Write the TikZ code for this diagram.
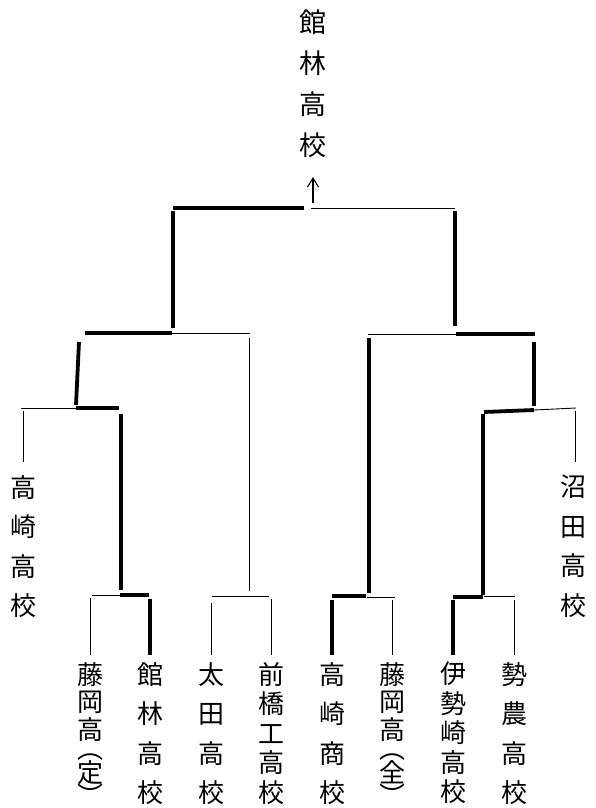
\documentclass[tikz,border=0pt]{standalone}
\usepackage{fontspec}
\newfontfamily\jp{Noto Sans CJK JP}
\usetikzlibrary{arrows.meta}
\begin{document}
\begin{tikzpicture}[x=1pt,y=-1pt,
  win/.style={line width=3.8pt},
  lose/.style={line width=0.9pt},
  lab/.style={inner sep=0pt, align=center, anchor=north},
  sp39/.style={font=\jp\fontsize{26}{39.5}\selectfont},
  sp41/.style={font=\jp\fontsize{27}{41}\selectfont},
  sp29/.style={font=\jp\fontsize{26}{29.5}\selectfont},
  sp28/.style={font=\jp\fontsize{26}{27.5}\selectfont}]
\useasboundingbox (0,0) rectangle (595,808);

% ---- labels
\node[lab,sp41] (champ) at (313,10) {館\\林\\高\\校};
\node[lab,sp39] (l1) at (23,475) {高\\崎\\高\\校};
\node[lab,sp39] (r1) at (573,475) {沼\\田\\高\\校};
\node[lab,sp28] (t1) at (90,662) {藤\\岡\\高\\[-8pt]︵\\[-4pt]定\\[-4pt]︶};
\node[lab,sp39] (t2) at (150,662) {館\\林\\高\\校};
\node[lab,sp39] (t3) at (211,662) {太\\田\\高\\校};
\node[lab,sp29] (t4) at (271,662) {前\\橋\\工\\高\\校};
\node[lab,sp39] (t5) at (332,662) {高\\崎\\商\\校};
\node[lab,sp28] (t6) at (392,662) {藤\\岡\\高\\[-8pt]︵\\[-4pt]全\\[-4pt]︶};
\node[lab,sp29] (t7) at (453,662) {伊\\勢\\崎\\高\\校};
\node[lab,sp39] (t8) at (514,662) {勢\\農\\高\\校};

% ---- stub ends above labels
\coordinate (s1) at (90,655);  \coordinate (s2) at (150,655);
\coordinate (s3) at (211,655); \coordinate (s4) at (271,655);
\coordinate (s5) at (332,655); \coordinate (s6) at (392,655);
\coordinate (s7) at (453,655); \coordinate (s8) at (514,655);
\coordinate (sl) at (23,462);  \coordinate (sr) at (575,462);

% ---- final
\coordinate (arrA) at (313,203); \coordinate (arrB) at (313,177);
\draw[line width=1.1pt,-{Straight Barb[length=9pt,width=11pt]}] (arrA) -- (arrB);
\coordinate (F1) at (173,208); \coordinate (F2) at (304,208);
\coordinate (F3) at (311,208); \coordinate (F4) at (455,208);
\coordinate (F1b) at (173,211); \coordinate (F4b) at (455,211);
\coordinate (L0) at (173,328); \coordinate (R0) at (455,326);
\draw[win] (F1) -- (F2);
\draw[lose] (F3) -- (F4);
\draw[win] (F1b) -- (L0);
\draw[win] (F4b) -- (R0);

% ---- semifinal left
\coordinate (SL1) at (85,333); \coordinate (SL2) at (172,333); \coordinate (SL3) at (250,333);
\draw[win] (SL1) -- (SL2);
\draw[lose] (SL2) -- (SL3);
\coordinate (SLa) at (79,342); \coordinate (SLb) at (76,405);
\draw[win] (SLa) -- (SLb);
\coordinate (SLc) at (249,338); \coordinate (SLd) at (249,591);
\draw[lose] (SLc) -- (SLd);

% ---- semifinal right
\coordinate (SR1) at (368,334); \coordinate (SR2) at (456,334); \coordinate (SR3) at (535,334);
\draw[lose] (SR1) -- (SR2);
\draw[win] (SR2) -- (SR3);
\coordinate (SRa) at (369,338); \coordinate (SRb) at (369,593);
\draw[win] (SRa) -- (SRb);
\coordinate (SRc) at (534,342); \coordinate (SRd) at (534,406);
\draw[win] (SRc) -- (SRd);

% ---- quarter left
\coordinate (QL1) at (21,408); \coordinate (QL2) at (76,408); \coordinate (QL3) at (119,408);
\draw[lose] (QL1) -- (QL2);
\draw[win] (QL2) -- (QL3);
\coordinate (QLa) at (23,411);
\draw[lose] (QLa) -- (sl);
\coordinate (QLb) at (121,414); \coordinate (QLc) at (121,590);
\draw[win] (QLb) -- (QLc);

% ---- quarter right
\coordinate (QR1) at (484,412); \coordinate (QR2) at (534,410); \coordinate (QR3) at (576,408);
\draw[win] (QR1) -- (QR2);
\draw[lose] (QR2) -- (QR3);
\coordinate (QRa) at (575,411);
\draw[lose] (QRa) -- (sr);
\coordinate (QRb) at (483,414); \coordinate (QRc) at (483,595);
\draw[win] (QRb) -- (QRc);

% ---- first round A
\coordinate (A1) at (92,595); \coordinate (A2) at (120,595); \coordinate (A3) at (149,595);
\draw[lose] (A1) -- (A2);
\draw[win] (A2) -- (A3);
\coordinate (A1b) at (90,598); \coordinate (A3b) at (150,599);
\draw[lose] (A1b) -- (s1);
\draw[win] (A3b) -- (s2);

% ---- first round B
\coordinate (B1) at (212,596); \coordinate (B3) at (269,596);
\draw[lose] (B1) -- (B3);
\coordinate (B1b) at (211,603); \coordinate (B3b) at (271,599);
\draw[lose] (B1b) -- (s3);
\draw[lose] (B3b) -- (s4);

% ---- first round C
\coordinate (C1) at (332,596); \coordinate (C2) at (366,596); \coordinate (C2b) at (367,597); \coordinate (C3) at (395,597);
\draw[win] (C1) -- (C2);
\draw[lose] (C2b) -- (C3);
\coordinate (C1b) at (332,600); \coordinate (C3b) at (392,600);
\draw[win] (C1b) -- (s5);
\draw[lose] (C3b) -- (s6);

% ---- first round D
\coordinate (D1) at (453,597); \coordinate (D2) at (483,597); \coordinate (D2b) at (484,596); \coordinate (D3) at (515,596);
\draw[win] (D1) -- (D2);
\draw[lose] (D2b) -- (D3);
\coordinate (D1b) at (453,600); \coordinate (D3b) at (514,600);
\draw[win] (D1b) -- (s7);
\draw[lose] (D3b) -- (s8);
\end{tikzpicture}
\end{document}
